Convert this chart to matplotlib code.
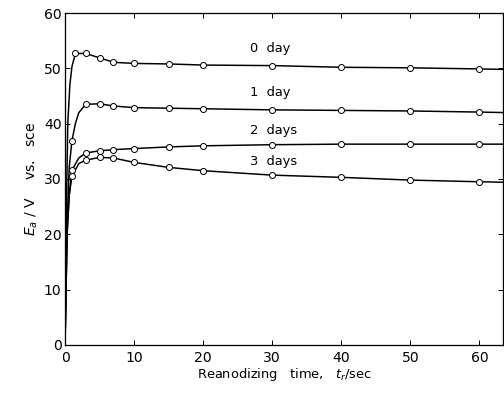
import matplotlib
matplotlib.use("Agg")
import matplotlib.pyplot as plt

# reanodizing time (s) at the plotted points
t_day0 = [1.5, 3, 5, 7, 10, 15, 20, 30, 40, 50, 60]
t_other = [1, 3, 5, 7, 10, 15, 20, 30, 40, 50, 60]

# Ea / V vs. sce at the marked points
e_day0 = [52.7, 52.7, 51.9, 51.1, 50.9, 50.8, 50.6, 50.5, 50.2, 50.1, 49.9]
e_day1 = [36.9, 43.5, 43.6, 43.2, 42.9, 42.8, 42.7, 42.5, 42.4, 42.3, 42.1]
e_day2 = [31.6, 34.7, 35.1, 35.3, 35.5, 35.8, 36.0, 36.2, 36.3, 36.3, 36.3]
e_day3 = [30.5, 33.4, 33.9, 33.8, 33.0, 32.1, 31.5, 30.7, 30.3, 29.8, 29.5]

# unmarked points read along the steep rise and the run-out past 60 s
rise_t0 = [0, 0.2, 0.4, 0.7, 1.0]
rise_e0 = [0, 25, 40, 47, 50.3]
rise_t1 = [0, 0.3, 0.6]
rise_e1 = [0, 22, 32]
mid_t1 = [1.5, 2]
mid_e1 = [40.0, 42.0]
rise_t2 = [0, 0.3, 0.6]
rise_e2 = [0, 20, 27]
mid_t2 = [2]
mid_e2 = [33.8]
rise_t3 = [0, 0.3, 0.6]
rise_e3 = [0, 20, 27]
mid_t3 = [2]
mid_e3 = [32.8]
end_t = 64
end_e = [49.8, 42.0, 36.3, 29.4]

labels = ["0  day", "1  day", "2  days", "3  days"]
label_x = [26.8, 26.8, 26.8, 26.8]
label_y = [53.6, 45.6, 38.7, 33.1]


def merge(ts, es):
    pts = sorted(zip(ts, es))
    return [p[0] for p in pts], [p[1] for p in pts]


fig = plt.figure(figsize=(7, 5.5), dpi=72)
ax = fig.add_axes([0.129, 0.129, 0.87, 0.838])

series = [
    (t_day0, e_day0, rise_t0 + [end_t], rise_e0 + [end_e[0]]),
    (t_other, e_day1, rise_t1 + mid_t1 + [end_t], rise_e1 + mid_e1 + [end_e[1]]),
    (t_other, e_day2, rise_t2 + mid_t2 + [end_t], rise_e2 + mid_e2 + [end_e[2]]),
    (t_other, e_day3, rise_t3 + mid_t3 + [end_t], rise_e3 + mid_e3 + [end_e[3]]),
]

for tm, em, tx, ex in series:
    lt, le = merge(list(tm) + tx, list(em) + ex)
    ax.plot(lt, le, color="black", lw=1.5, zorder=2)
    ax.plot(tm, em, "o", ms=6, mfc="white", mec="black", mew=1.0, zorder=3)

for s, x, y in zip(labels, label_x, label_y):
    ax.text(x, y, s, fontsize=13, va="center", ha="left")

ax.set_xlim(0, 63.5)
ax.set_ylim(0, 60)
ax.set_xticks([0, 10, 20, 30, 40, 50, 60])
ax.set_yticks([0, 10, 20, 30, 40, 50, 60])
ax.tick_params(direction="in", length=5, width=1, labelsize=14,
               top=True, right=True)
ax.tick_params(axis="x", pad=6)
for sp in ax.spines.values():
    sp.set_linewidth(1.3)

ax.set_xlabel(r"Reanodizing   time,   $t_r$/sec", fontsize=13, labelpad=1)
ax.set_ylabel(r"$E_a$ / V    vs.   sce", fontsize=14, labelpad=4)

fig.savefig("out.png", dpi=72)
